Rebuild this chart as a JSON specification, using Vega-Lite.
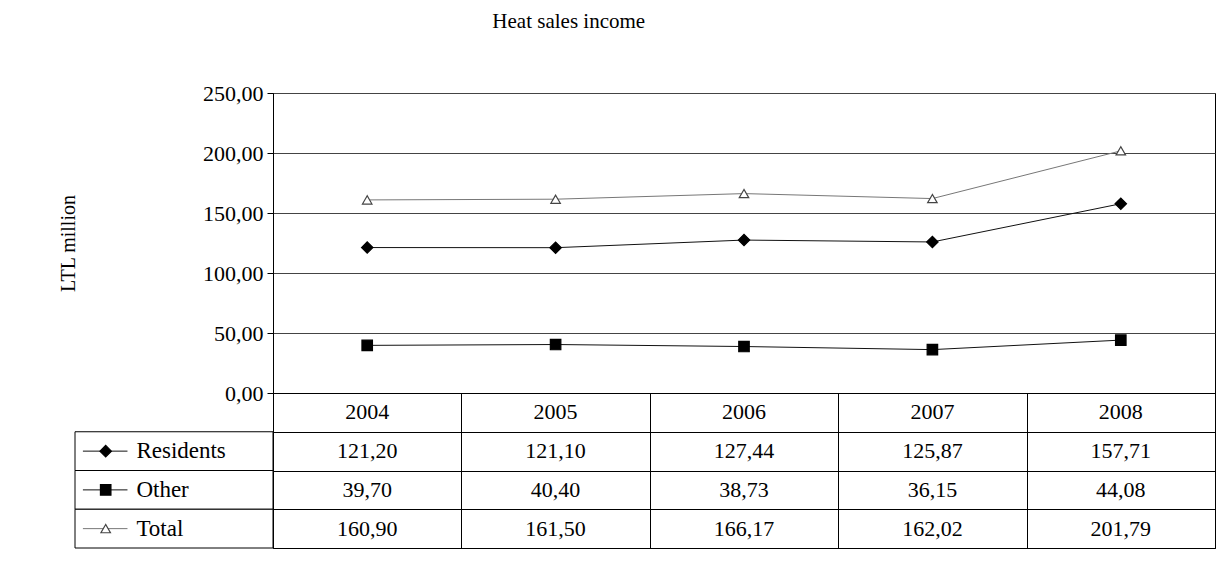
{
  "$schema": "https://vega.github.io/schema/vega-lite/v6.json",
  "padding": {"left": 58, "top": 10, "right": 3, "bottom": 33},
  "background": "#ffffff",
  "datasets": {
    "vals": [
      {"year": "2004", "series": "Residents", "value": 121.20},
      {"year": "2005", "series": "Residents", "value": 121.10},
      {"year": "2006", "series": "Residents", "value": 127.44},
      {"year": "2007", "series": "Residents", "value": 125.87},
      {"year": "2008", "series": "Residents", "value": 157.71},
      {"year": "2004", "series": "Other", "value": 39.70},
      {"year": "2005", "series": "Other", "value": 40.40},
      {"year": "2006", "series": "Other", "value": 38.73},
      {"year": "2007", "series": "Other", "value": 36.15},
      {"year": "2008", "series": "Other", "value": 44.08},
      {"year": "2004", "series": "Total", "value": 160.90},
      {"year": "2005", "series": "Total", "value": 161.50},
      {"year": "2006", "series": "Total", "value": 166.17},
      {"year": "2007", "series": "Total", "value": 162.02},
      {"year": "2008", "series": "Total", "value": 201.79}
    ],
    "years": [{"year": "2004"}, {"year": "2005"}, {"year": "2006"}, {"year": "2007"}, {"year": "2008"}],
    "series": [{"series": "Residents"}, {"series": "Other"}, {"series": "Total"}]
  },
  "title": {
    "text": "Heat sales income",
    "anchor": "middle",
    "dx": -68,
    "offset": 50,
    "font": "Liberation Serif",
    "fontSize": 21,
    "fontWeight": "normal",
    "color": "#000"
  },
  "columns": 2,
  "spacing": 0,
  "bounds": "flush",
  "align": "each",
  "concat": [
    {
      "width": 198,
      "height": 300,
      "view": {"stroke": null},
      "data": {"values": [{}]},
      "mark": {"type": "text", "text": ""},
      "encoding": {}
    },
    {
      "width": 942,
      "height": 300,
      "view": {"stroke": "#000", "strokeWidth": 1},
      "data": {"name": "vals"},
      "encoding": {
        "x": {"field": "year", "type": "ordinal", "scale": {"type": "point", "padding": 0.5}, "axis": null},
        "y": {
          "field": "value", "type": "quantitative",
          "scale": {"domain": [0, 250], "nice": false},
          "axis": {
            "values": [0, 50, 100, 150, 200, 250],
            "format": ".2f",
            "title": "LTL million",
            "grid": true,
            "gridColor": "#444",
            "gridWidth": 1,
            "domainColor": "#000",
            "tickColor": "#000",
            "tickSize": 6,
            "labelPadding": 4,
            "labelFont": "Liberation Serif",
            "labelFontSize": 22,
            "labelColor": "#000",
            "titleFont": "Liberation Serif",
            "titleFontSize": 20,
            "titleFontWeight": "normal",
            "titleColor": "#000",
            "titlePadding": 124
          }
        }
      },
      "layer": [
        {
          "mark": {"type": "line", "strokeWidth": 1},
          "encoding": {
            "color": {"field": "series", "type": "nominal", "scale": {"domain": ["Residents", "Other", "Total"], "range": ["#111111", "#111111", "#777777"]}, "legend": null}
          }
        },
        {
          "mark": {"type": "point", "filled": false, "opacity": 1, "strokeWidth": 1.2},
          "encoding": {
            "shape": {"field": "series", "type": "nominal", "scale": {"domain": ["Residents", "Other", "Total"], "range": ["diamond", "square", "triangle-up"]}, "legend": null},
            "fill": {"field": "series", "type": "nominal", "scale": {"domain": ["Residents", "Other", "Total"], "range": ["#000000", "#000000", "#ffffff"]}, "legend": null},
            "stroke": {"field": "series", "type": "nominal", "scale": {"domain": ["Residents", "Other", "Total"], "range": ["#000000", "#000000", "#444444"]}, "legend": null},
            "size": {"field": "series", "type": "nominal", "scale": {"domain": ["Residents", "Other", "Total"], "range": [130, 90, 130]}, "legend": null}
          }
        }
      ]
    },
    {
      "width": 198,
      "height": 155,
      "view": {"stroke": null},
      "data": {"name": "series"},
      "encoding": {
        "y": {"field": "series", "type": "nominal", "scale": {"domain": ["Year", "Residents", "Other", "Total"], "paddingInner": 0, "paddingOuter": 0}, "axis": null}
      },
      "layer": [
        {
          "mark": {"type": "rect", "fill": "#ffffff", "stroke": "#000", "strokeWidth": 1}
        },
        {
          "mark": {"type": "rule", "strokeWidth": 1},
          "encoding": {
            "x": {"datum": 8, "type": "quantitative", "scale": {"domain": [0, 198]}, "axis": null},
            "x2": {"datum": 53},
            "y": {"field": "series", "type": "nominal", "bandPosition": 0.5},
            "color": {"field": "series", "type": "nominal", "scale": {"domain": ["Residents", "Other", "Total"], "range": ["#111111", "#111111", "#777777"]}, "legend": null}
          }
        },
        {
          "mark": {"type": "point", "filled": false, "opacity": 1, "strokeWidth": 1.2},
          "encoding": {
            "x": {"datum": 31, "type": "quantitative"},
            "y": {"field": "series", "type": "nominal", "bandPosition": 0.5},
            "shape": {"field": "series", "type": "nominal", "scale": {"domain": ["Residents", "Other", "Total"], "range": ["diamond", "square", "triangle-up"]}, "legend": null},
            "fill": {"field": "series", "type": "nominal", "scale": {"domain": ["Residents", "Other", "Total"], "range": ["#000000", "#000000", "#ffffff"]}, "legend": null},
            "stroke": {"field": "series", "type": "nominal", "scale": {"domain": ["Residents", "Other", "Total"], "range": ["#000000", "#000000", "#444444"]}, "legend": null},
            "size": {"field": "series", "type": "nominal", "scale": {"domain": ["Residents", "Other", "Total"], "range": [70, 60, 80]}, "legend": null}
          }
        },
        {
          "mark": {"type": "text", "align": "left", "baseline": "middle", "font": "Liberation Serif", "fontSize": 23, "color": "#000"},
          "encoding": {
            "x": {"datum": 62, "type": "quantitative"},
            "y": {"field": "series", "type": "nominal", "bandPosition": 0.5},
            "text": {"field": "series"}
          }
        }
      ]
    },
    {
      "width": 942,
      "height": 155,
      "view": {"stroke": "#000", "strokeWidth": 1},
      "encoding": {
        "x": {
          "field": "year", "type": "ordinal",
          "scale": {"domain": ["2004", "2005", "2006", "2007", "2008"], "paddingInner": 0, "paddingOuter": 0},
          "axis": {"grid": true, "tickBand": "extent", "labels": false, "ticks": false, "domain": false, "title": null, "gridColor": "#000", "gridWidth": 1}
        }
      },
      "layer": [
        {
          "data": {"name": "vals"},
          "mark": {"type": "text", "align": "center", "baseline": "middle", "font": "Liberation Serif", "fontSize": 22, "color": "#000"},
          "encoding": {
            "y": {
              "field": "series", "type": "nominal", "bandPosition": 0.5,
              "scale": {"domain": ["Year", "Residents", "Other", "Total"], "paddingInner": 0, "paddingOuter": 0},
              "axis": {"grid": true, "tickBand": "extent", "labels": false, "ticks": false, "domain": false, "title": null, "gridColor": "#000", "gridWidth": 1}
            },
            "text": {"field": "value", "type": "quantitative", "format": ".2f"}
          }
        },
        {
          "data": {"name": "years"},
          "mark": {"type": "text", "align": "center", "baseline": "middle", "font": "Liberation Serif", "fontSize": 22, "color": "#000"},
          "encoding": {
            "y": {"datum": "Year", "type": "nominal", "bandPosition": 0.5},
            "text": {"field": "year"}
          }
        }
      ]
    }
  ],
  "config": {
    "font": "Liberation Serif",
    "locale": {"number": {"decimal": ",", "thousands": " ", "grouping": [3], "currency": ["", ""]}}
  }
}
